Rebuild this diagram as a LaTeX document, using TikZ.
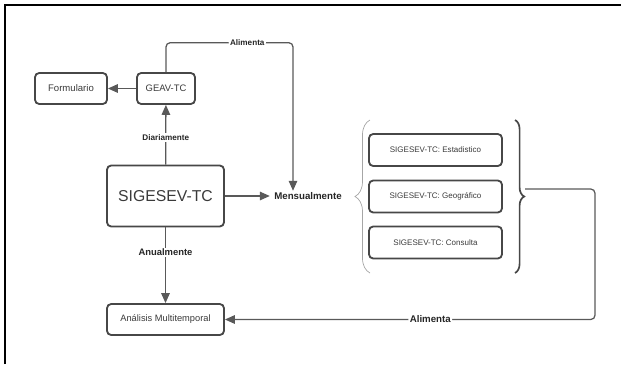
\documentclass[tikz,border=0pt]{standalone}
\usepackage{fontspec}
\setmainfont{Liberation Sans}
\usetikzlibrary{arrows.meta,decorations.pathreplacing}
\definecolor{lineGray}{HTML}{595959}
\definecolor{boxGray}{HTML}{474747}
\definecolor{textGray}{HTML}{3A3A3A}
\begin{document}
\begin{tikzpicture}[x=0.025cm, y=-0.025cm,
    boxStyle/.style={draw=boxGray, line width=1.3pt, rounded corners=3pt, text=textGray, inner sep=0pt, minimum height=0.775cm},
    subStyle/.style={boxStyle, minimum width=3.325cm, minimum height=0.8cm, font=\fontsize{5.7}{7}\selectfont},
    arrowStyle/.style={draw=lineGray, line width=0.9pt, -{Triangle[length=7pt,width=6pt]}},
    labelStyle/.style={fill=white, inner sep=1pt, text=black!85, font=\bfseries\fontsize{5.8}{7}\selectfont}]
    \useasboundingbox (0,0) rectangle (621,364);
    \draw[line width=1.2pt] (5,364) -- (5,5) -- (621,5);

    \node[boxStyle, minimum width=1.8cm, font=\fontsize{6.8}{8}\selectfont](form) at (71, 88.5) {Formulario};
    \node[boxStyle, minimum width=1.45cm, font=\fontsize{6.7}{8}\selectfont](geav) at (166, 88.5) {GEAV-TC};
    \node[boxStyle, minimum width=2.925cm, minimum height=1.525cm, font=\fontsize{11.2}{13}\selectfont](sig) at (165.5, 196) {SIGESEV-TC};
    \node[boxStyle, minimum width=2.925cm, font=\fontsize{6.6}{8}\selectfont](ana) at (165.5, 319.5) {Análisis Multitemporal};
    \node[labelStyle, font=\bfseries\fontsize{6.9}{8}\selectfont](mens) at (308, 196) {Mensualmente};
    \node[subStyle](est) at (435.5, 150) {SIGESEV-TC: Estadistico};
    \node[subStyle](geo) at (435.5, 196.5) {SIGESEV-TC: Geográfico};
    \node[subStyle](con) at (435.5, 242.5) {SIGESEV-TC: Consulta};
    \coordinate (ta) at (293, 42.7);
    \coordinate (rb) at (525, 189);
    \coordinate (rc) at (595, 319.5);

    \draw[draw=black!35, line width=0.5pt, decorate, decoration={brace, amplitude=0.375cm}] (370, 273) -- (370, 120);
    \draw[draw=boxGray, line width=1.2pt, decorate, decoration={brace, amplitude=0.23cm}] (515, 120) -- (515, 273);

    \draw[arrowStyle] (geav) -- (form);
    \draw[arrowStyle] (sig) -- (geav) node[labelStyle, pos=0.45] {Diariamente};
    \draw[arrowStyle] (sig) -- (ana) node[labelStyle, pos=0.33, font=\bfseries\fontsize{6.7}{8}\selectfont] {Anualmente};
    \draw[arrowStyle, shorten >=2pt] (sig) -- (mens);
    \draw[arrowStyle, rounded corners=3pt] (geav.north) |- (ta) node[labelStyle, pos=0.82] {Alimenta} -- (ta |- mens.north);
    \draw[arrowStyle, rounded corners=3pt] (rb) -| (rc) -- (ana.east) node[labelStyle, pos=0.445, font=\bfseries\fontsize{6.9}{8}\selectfont] {Alimenta};
\end{tikzpicture}
\end{document}
